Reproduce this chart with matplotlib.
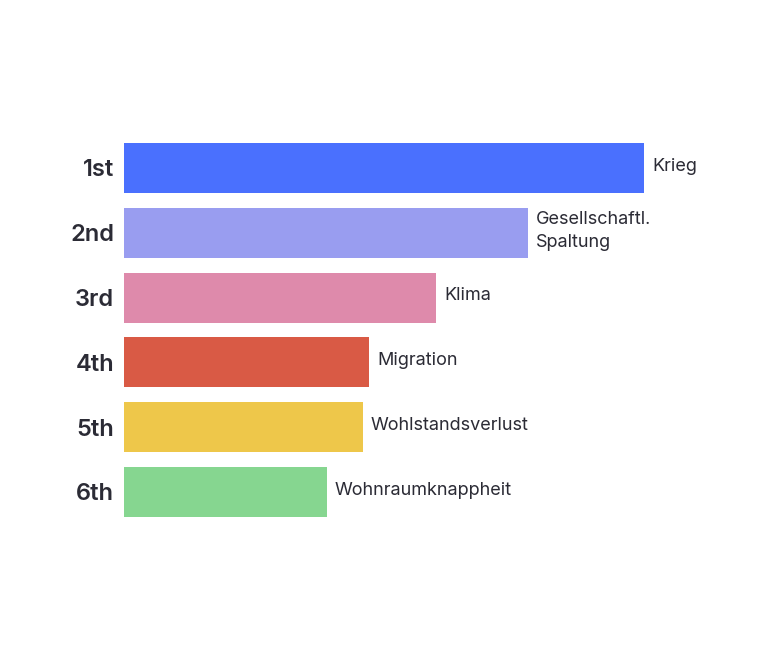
import matplotlib
matplotlib.use("Agg")
import matplotlib.pyplot as plt

ranks = ["1st", "2nd", "3rd", "4th", "5th", "6th"]
topics = ["Krieg", "Gesellschaftl.\nSpaltung", "Klima", "Migration", "Wohlstandsverlust", "Wohnraumknappheit"]
values = [5.20, 4.04, 3.12, 2.45, 2.39, 2.03]
colors = ["#4A70FE", "#999DF0", "#DE8AAB", "#D95A45", "#EEC74A", "#86D690"]

plt.rcParams['font.family'] = ['Inter', 'DejaVu Sans']
W, H = 770, 652
fig = plt.figure(figsize=(W/100, H/100), dpi=100)
ax = fig.add_axes([124/W, 1-560/H, 576/W, 460/H])
ypos = list(range(len(ranks)))
ax.barh(ypos, values, height=50/64.8, color=colors)
ax.set_xlim(0, 5.76)
ax.set_ylim(5 + 68/64.8, -68/64.8)
for y, v, t in zip(ypos, values, topics):
    ax.text(v + 0.08, y - 0.03, t, va='center', ha='left', fontsize=13, color='#2b2b35', linespacing=1.45)
ax.set_yticks(ypos)
ax.set_yticklabels(ranks, fontsize=17, fontweight='semibold', color='#2b2b35')
ax.tick_params(axis='y', length=0, pad=7)
ax.set_xticks([])
for s in ax.spines.values():
    s.set_visible(False)
fig.savefig("out.png", dpi=100, facecolor='white')
